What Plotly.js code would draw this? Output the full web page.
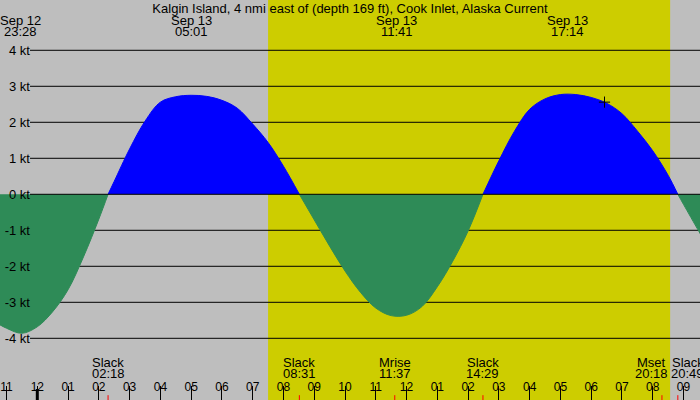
<!DOCTYPE html>
<html>
<head>
<meta charset="utf-8">
<script src="https://cdn.plot.ly/plotly-3.0.1.min.js"></script>
<style>html,body{margin:0;padding:0;background:#bebebe;overflow:hidden}</style>
</head>
<body>
<div id="myDiv" style="width:700px;height:400px"></div>
<script>
var prev = '2024-09-12 ';
var day = '2024-09-13 ';

// current speed in knots (+ flood, - ebb), every half hour plus the slack points
var times = [
  prev+'22:30', prev+'23:00', prev+'23:30', day+'00:00', day+'00:30', day+'01:00', day+'01:30', day+'02:00',
  day+'02:18', day+'02:30', day+'03:00', day+'03:30', day+'04:00', day+'04:30', day+'05:00', day+'05:30',
  day+'06:00', day+'06:30', day+'07:00', day+'07:30', day+'08:00',
  day+'08:31', day+'09:00', day+'09:30', day+'10:00', day+'10:30', day+'11:00', day+'11:30', day+'12:00',
  day+'12:30', day+'13:00', day+'13:30', day+'14:00',
  day+'14:29', day+'15:00', day+'15:30', day+'16:00', day+'16:30', day+'17:00', day+'17:30', day+'18:00',
  day+'18:30', day+'19:00', day+'19:30', day+'20:00', day+'20:30',
  day+'20:49', day+'21:00', day+'21:30', day+'21:45'
];
var speeds = [
  -3.48, -3.72, -3.86, -3.68, -3.26, -2.65, -1.74, -0.69,
  0, 0.36, 1.26, 2.03, 2.56, 2.71, 2.75, 2.72,
  2.61, 2.39, 1.95, 1.44, 0.78,
  0, -0.71, -1.44, -2.13, -2.72, -3.16, -3.37, -3.36,
  -3.12, -2.57, -1.86, -1.02,
  0, 0.93, 1.74, 2.36, 2.65, 2.77, 2.77, 2.69,
  2.53, 2.24, 1.76, 1.21, 0.53,
  0, -0.28, -1.03, -1.40
];

var maxTimes = [prev+'23:28', day+'05:01', day+'11:41', day+'17:14'];
var maxDates = ['Sep 12', 'Sep 13', 'Sep 13', 'Sep 13'];
var maxClock = ['23:28', '05:01', '11:41', '17:14'];

var eventTimes = [day+'02:18', day+'08:31', day+'11:37', day+'14:29', day+'20:18', day+'20:49'];
var eventNames = ['Slack', 'Slack', 'Mrise', 'Slack', 'Mset', 'Slack'];
var eventClock = ['02:18', '08:31', '11:37', '14:29', '20:18', '20:49'];
var eventShift = [0, 0, 0, 0, -10, 10];

var sunrise = day+'07:30';
var sunset = day+'20:34';
var midnight = [day+'00:00'];
var nowTime = [day+'18:26'];
var nowSpeed = [2.56];
var gridKt = [-4, -3, -2, -1, 1, 2, 3, 4];
var tickKt = [-4, -3, -2, -1, 0, 1, 2, 3, 4];
var tickKtText = ['-4 kt', '-3 kt', '-2 kt', '-1 kt', '0 kt', '1 kt', '2 kt', '3 kt', '4 kt'];

var font = 'Liberation Sans, Arial, sans-serif';
var yr = [-5.714, 5.397];

// split the curve into flood / ebb pieces at the slack points
var segs = [];
var cur = {x: [times[0]], y: [speeds[0]]};
for (var i = 1; i < times.length; i++) {
  cur.x.push(times[i]);
  cur.y.push(speeds[i]);
  if (speeds[i] === 0 && i < times.length - 1) {
    segs.push(cur);
    cur = {x: [times[i]], y: [speeds[i]]};
  }
}
segs.push(cur);

var data = segs.map(function (s) {
  var pos = s.y.some(function (v) { return v > 0; });
  var c = pos ? '#0000ff' : '#2e8b57';
  return {
    x: s.x, y: s.y, type: 'scatter', mode: 'lines',
    line: {shape: 'spline', smoothing: 1, width: 1, color: c},
    fill: 'tozeroy', fillcolor: c, hoverinfo: 'skip'
  };
});

data.push({
  x: eventTimes, y: eventTimes.map(function () { return -5.658; }),
  type: 'scatter', mode: 'markers', hoverinfo: 'skip',
  marker: {symbol: 'line-ns', size: 4, line: {color: '#ff0000', width: 1}}
});
data.push({
  x: midnight, y: [-5.583], type: 'scatter', mode: 'markers', hoverinfo: 'skip',
  marker: {symbol: 'line-ns', size: 9, line: {color: '#000000', width: 3}}
});
data.push({
  x: nowTime, y: nowSpeed, type: 'scatter', mode: 'markers', hoverinfo: 'skip',
  marker: {symbol: 'cross-thin', size: 8, line: {color: '#000000', width: 1}}
});

var shapes = [{
  type: 'rect', xref: 'x', yref: 'paper', x0: sunrise, x1: sunset, y0: 0, y1: 1,
  fillcolor: '#cdcd00', line: {width: 0}, layer: 'below'
}];
gridKt.forEach(function (k) {
  shapes.push({type: 'line', xref: 'paper', yref: 'y', x0: 30/700, x1: 1, y0: k, y1: k,
    line: {color: '#000000', width: 1}, layer: 'below'});
});
shapes.push({type: 'line', xref: 'paper', yref: 'y', x0: 30/700, x1: 1, y0: 0, y1: 0,
  line: {color: '#000000', width: 1}, layer: 'above'});

var annotations = [];
maxTimes.forEach(function (t, i) {
  annotations.push({x: t, xref: 'x', yref: 'paper', y: 1 - 20/400, yanchor: 'middle',
    text: maxDates[i], showarrow: false, font: {family: font, size: 13, color: '#000'}});
  annotations.push({x: t, xref: 'x', yref: 'paper', y: 1 - 32/400, yanchor: 'middle',
    text: maxClock[i], showarrow: false, font: {family: font, size: 13, color: '#000'}});
});
eventTimes.forEach(function (t, i) {
  annotations.push({x: t, xref: 'x', yref: 'paper', y: 1 - 362/400, yanchor: 'middle',
    xshift: eventShift[i], text: eventNames[i], showarrow: false,
    font: {family: font, size: 13, color: '#000'}});
  annotations.push({x: t, xref: 'x', yref: 'paper', y: 1 - 373.5/400, yanchor: 'middle',
    xshift: eventShift[i], text: eventClock[i], showarrow: false,
    font: {family: font, size: 13, color: '#000'}});
});

var layout = {
  width: 700, height: 400,
  margin: {l: 0, r: 0, t: 0, b: 0, pad: 0},
  paper_bgcolor: '#bebebe', plot_bgcolor: '#bebebe',
  showlegend: false,
  title: {text: 'Kalgin Island, 4 nmi east of (depth 169 ft), Cook Inlet, Alaska Current',
    font: {family: font, size: 13, color: '#000'}, x: 0.5, xanchor: 'center', y: 1 - 8/400, yanchor: 'middle'},
  xaxis: {
    type: 'date', range: [prev+'22:47:16', day+'21:32:13'],
    anchor: 'free', position: 0, side: 'top',
    ticks: 'outside', ticklen: 14, tickwidth: 1, tickcolor: '#000',
    ticklabelstandoff: -10,
    tick0: prev+'00:00', dtick: 3600000, tickformat: '%I',
    showgrid: false, zeroline: false, showline: false,
    tickfont: {family: font, size: 12, color: '#000'}
  },
  yaxis: {
    range: yr, anchor: 'free', position: 30/700, side: 'left',
    tickvals: tickKt, ticktext: tickKtText, ticks: '',
    showgrid: false, zeroline: false, showline: false,
    tickfont: {family: font, size: 13, color: '#000'}
  },
  shapes: shapes,
  annotations: annotations
};

Plotly.newPlot('myDiv', data, layout, {staticPlot: true, displayModeBar: false});
</script>
</body>
</html>
